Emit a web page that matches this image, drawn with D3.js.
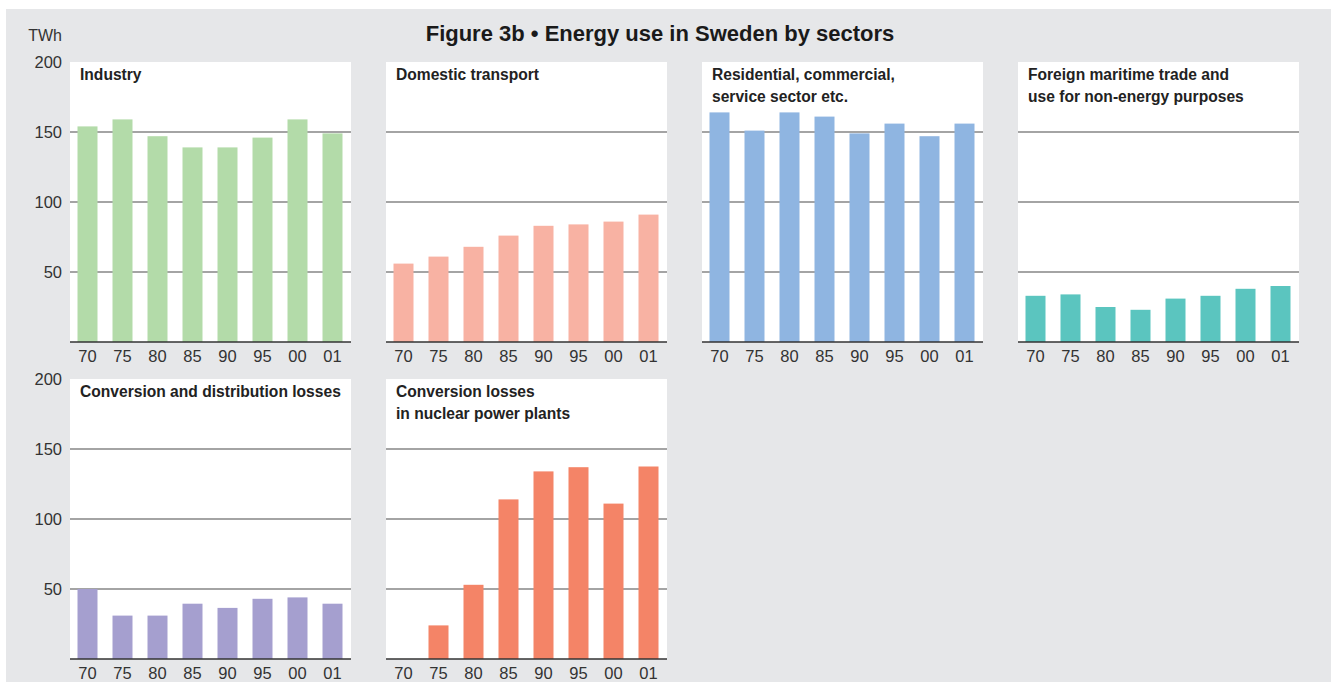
<!DOCTYPE html>
<html>
<head>
<meta charset="utf-8">
<script src="https://cdn.jsdelivr.net/npm/d3@7"></script>
<style>
  html, body { margin: 0; padding: 0; background: #ffffff; }
  svg { display: block; }
  text { font-family: "Liberation Sans", Arial, Helvetica, sans-serif; }
</style>
</head>
<body>
<svg id="chart" width="1331" height="682"></svg>
<script>
// ---- Data (TWh) ----
const years = ["70", "75", "80", "85", "90", "95", "00", "01"];
const yTicks = [50, 100, 150, 200];
const industry = [154, 159, 147, 139, 139, 146, 159, 149];
const domesticTransport = [56, 61, 68, 76, 83, 84, 86, 91];
const residential = [164, 151, 164, 161, 149, 156, 147, 156];
const foreignMaritime = [33, 34, 25, 23, 31, 33, 38, 40];
const conversionLosses = [50, 31, 31, 39.5, 36.5, 43, 44, 39.5];
const nuclearLosses = [0, 24, 53, 114, 134, 137, 111, 137.5];

const panelTitles = [
  ["Industry"],
  ["Domestic transport"],
  ["Residential, commercial,", "service sector etc."],
  ["Foreign maritime trade and", "use for non-energy purposes"],
  ["Conversion and distribution losses"],
  ["Conversion losses", "in nuclear power plants"]
];
const panelValues = [industry, domesticTransport, residential, foreignMaritime, conversionLosses, nuclearLosses];
const panelColors = ["#b3dba9", "#f8b2a3", "#8fb5e1", "#5bc5bf", "#a59fcf", "#f48467"];

// ---- Layout ----
const svg = d3.select("#chart");
svg.append("rect").attr("x", 6).attr("y", 9).attr("width", 1325).attr("height", 673).attr("fill", "#e6e7e9");

svg.append("text")
  .attr("x", 660).attr("y", 41)
  .attr("text-anchor", "middle")
  .attr("font-size", 22).attr("font-weight", "bold").attr("fill", "#1a1a1a")
  .text("Figure 3b \u2022 Energy use in Sweden by sectors");

svg.append("text")
  .attr("x", 62).attr("y", 41)
  .attr("text-anchor", "end")
  .attr("font-size", 16).attr("fill", "#333")
  .text("TWh");

const panelW = 281;
const colX = [70, 386, 702, 1018];
const rowBase = [342, 659];
const plotH = 280;

panelValues.forEach((vals, i) => {
  const row = i < 4 ? 0 : 1;
  const cx = i < 4 ? colX[i] : colX[i - 4];
  const base = rowBase[row];

  const x = d3.scaleBand().domain(years).range([cx, cx + 280]).paddingInner(0.4286).paddingOuter(0.2143);
  const y = d3.scaleLinear().domain([0, 200]).range([base, base - plotH]);

  const g = svg.append("g");
  g.append("rect")
    .attr("x", cx).attr("y", y(200))
    .attr("width", panelW).attr("height", plotH)
    .attr("fill", "#ffffff");

  // gridlines
  g.selectAll("line.grid").data([50, 100, 150]).enter().append("line")
    .attr("x1", cx).attr("x2", cx + panelW)
    .attr("y1", d => y(d)).attr("y2", d => y(d))
    .attr("stroke", "#4a4a4a").attr("stroke-width", 1.2);

  // bars
  g.selectAll("rect.bar").data(vals).enter().append("rect")
    .attr("x", (d, j) => x(years[j]))
    .attr("y", d => y(d))
    .attr("width", x.bandwidth())
    .attr("height", d => y(0) - y(d))
    .attr("fill", panelColors[i]);

  // baseline
  g.append("line")
    .attr("x1", cx).attr("x2", cx + panelW)
    .attr("y1", y(0)).attr("y2", y(0))
    .attr("stroke", "#333").attr("stroke-width", 1.5);

  // x axis labels
  const xAxis = d3.axisBottom(x).tickSize(0).tickPadding(0);
  const ax = g.append("g").attr("transform", `translate(0,${y(0)})`).call(xAxis);
  ax.select(".domain").remove();
  ax.selectAll("text")
    .attr("dy", null).attr("y", 20)
    .attr("font-size", 16.5).attr("fill", "#333")
    .attr("font-family", "'Liberation Sans', Arial, sans-serif");

  // y axis labels (left column only)
  if (cx === colX[0]) {
    const yAxis = d3.axisLeft(y).tickValues(yTicks).tickSize(0).tickPadding(8);
    const ay = g.append("g").attr("transform", `translate(${cx},0)`).call(yAxis);
    ay.select(".domain").remove();
    ay.selectAll("text")
      .attr("font-size", 16.5).attr("fill", "#333")
      .attr("font-family", "'Liberation Sans', Arial, sans-serif");
  }

  // panel title
  panelTitles[i].forEach((line, k) => {
    g.append("text")
      .attr("x", cx + 10).attr("y", y(200) + 18 + k * 22)
      .attr("font-size", 15.6).attr("font-weight", "bold").attr("fill", "#222")
      .text(line);
  });
});
</script>
</body>
</html>
